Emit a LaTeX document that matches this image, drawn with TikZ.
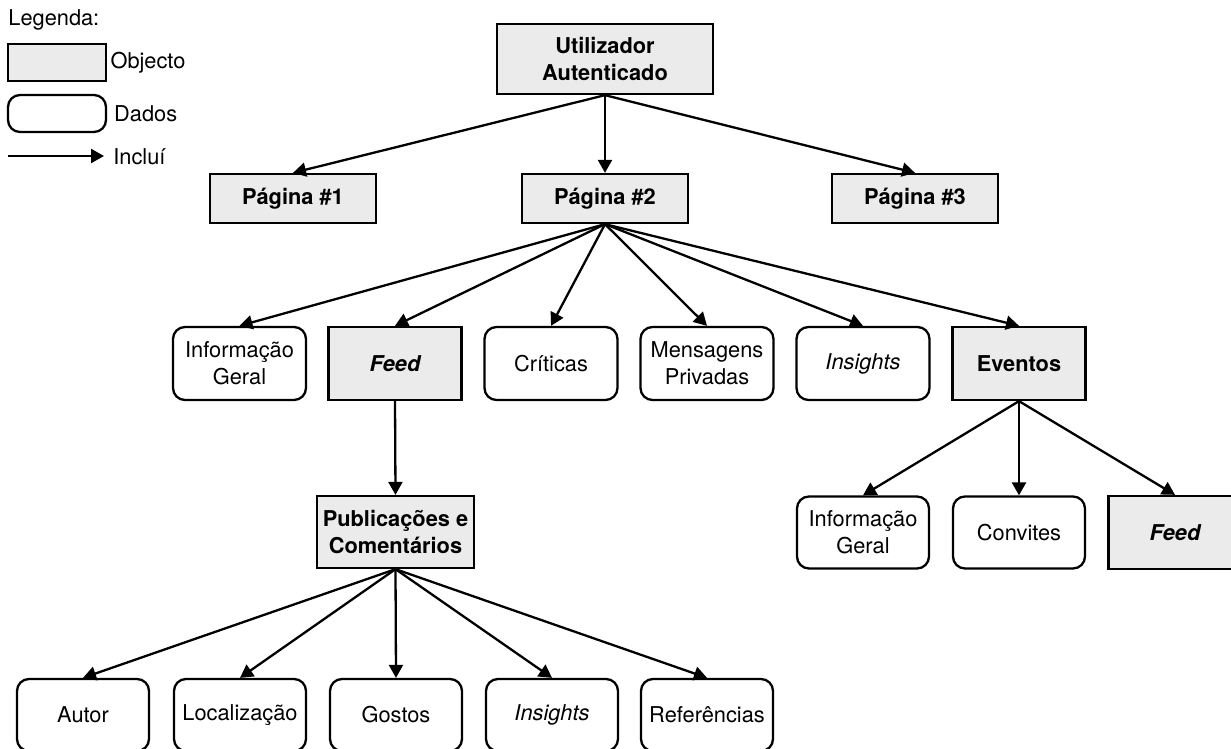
\documentclass[tikz,border=0pt]{standalone}
\usepackage{fontspec}
\setmainfont{TeX Gyre Heros}
\usetikzlibrary{arrows.meta}

\begin{document}
\begin{tikzpicture}[x=0.5pt,y=-0.5pt,
  font=\fontsize{10.9}{13.3}\selectfont,
  obj/.style={draw, line width=1.15pt, fill=black!8, align=center, inner sep=0pt,
    font=\fontsize{10.9}{13.3}\selectfont\bfseries},
  dados/.style={draw, line width=1.15pt, rounded corners=6pt, align=center, inner sep=0pt,
    minimum width=66pt, minimum height=36pt},
  nivel/.style={minimum width=66.5pt, minimum height=36.5pt},
  inc/.style={-{Triangle[length=6.5pt,width=7pt]}, line width=1.15pt}]
  \useasboundingbox (0,0) rectangle (1231,749);

  % Legend
  \node[anchor=west, inner sep=0pt] (leg) at (8,20) {Legenda:};
  \node[obj, minimum width=49pt, minimum height=18.5pt] (legobj) at (57,62.5) {};
  \node[anchor=west, inner sep=1.5pt] at (legobj.east) {Objecto};
  \node[dados, minimum width=49pt, minimum height=18.5pt] (legdados) at (57,113.5) {};
  \node[anchor=west] at (legdados.east) {Dados};
  \coordinate (legA) at (8,156);
  \coordinate (legB) at (104,156);
  \draw[inc] (legA) -- (legB);
  \node[anchor=west, inner sep=0pt] at (113,157) {Incluí};

  % Top levels
  \node[obj, minimum width=108pt, minimum height=35pt] (util) at (605,59) {Utilizador\\Autenticado};
  \node[obj, minimum width=83pt, minimum height=24.5pt] (pag1) at (293,198.5) {Página \#1};
  \node[obj, minimum width=83pt, minimum height=24.5pt] (pag2) at (605,198.5) {Página \#2};
  \node[obj, minimum width=83pt, minimum height=24.5pt] (pag3) at (915,198.5) {Página \#3};

  % Contents of Pagina #2
  \node[dados, nivel] (info) at (239.5,363.5) {Informação\\Geral};
  \node[obj, nivel] (feed) at (395,363.5) {\itshape Feed};
  \node[dados, nivel] (crit) at (551,363.5) {Críticas};
  \node[dados, nivel] (msg) at (707,363.5) {Mensagens\\Privadas};
  \node[dados, nivel] (ins) at (863,363.5) {\itshape Insights};
  \node[obj, nivel] (evt) at (1019,363.5) {Eventos};

  % Feed and events
  \node[obj, minimum width=78.5pt, minimum height=36pt] (pub) at (395.5,532) {Publicações e\\Comentários};
  \node[dados] (evinfo) at (863,532.5) {Informação\\Geral};
  \node[dados] (conv) at (1019,532.5) {Convites};
  \node[obj, nivel] (evfeed) at (1175,532.5) {\itshape Feed};

  % Publications
  \node[dados] (autor) at (83,715) {Autor};
  \node[dados] (local) at (240,715) {Localização};
  \node[dados] (gostos) at (396,715) {Gostos};
  \node[dados] (pins) at (552,715) {\itshape Insights};
  \node[dados] (ref) at (707,715) {Referências};

  \draw[inc] (util.south) -- (pag1.north);
  \draw[inc] (util.south) -- (pag2.north);
  \draw[inc] (util.south) -- (pag3.north);

  \foreach \n in {info,feed,crit,msg,ins,evt}
    \draw[inc] (pag2.south) -- (\n.north);

  \draw[inc] (feed.south) -- (pub.north);

  \foreach \n in {evinfo,conv,evfeed}
    \draw[inc] (evt.south) -- (\n.north);

  \foreach \n in {autor,local,gostos,pins,ref}
    \draw[inc] (pub.south) -- (\n.north);
\end{tikzpicture}
\end{document}
